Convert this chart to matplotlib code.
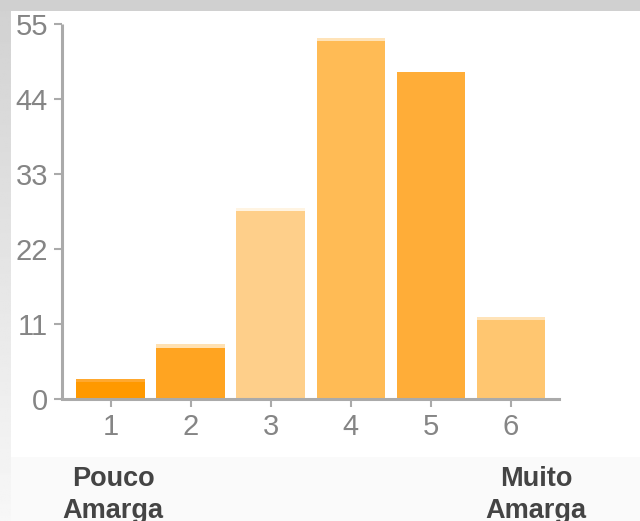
import numpy as np
import matplotlib
matplotlib.use("Agg")
import matplotlib.pyplot as plt
from matplotlib.patches import Rectangle

plt.rcParams['font.family'] = ['Liberation Sans', 'DejaVu Sans']

# answers per rating
ratings = [1, 2, 3, 4, 5, 6]
counts = [3, 8, 28, 53, 48, 12]
yticks = [0, 11, 22, 33, 44, 55]
bar_colors = ['#ff9900', '#ffa421', '#fecf8a', '#ffbb55', '#ffad38', '#ffc670']
cap_colors = ['#ffa82e', '#ffe1b2', '#fff4e2', '#ffe3b8', None, '#ffe3b8']

fig = plt.figure(figsize=(6.4, 5.21), dpi=100, facecolor='#fafafa')

# grey frame: band on top, fading strip on the left, white panel
bg = fig.add_axes([0, 0, 1, 1], zorder=-10)
bg.set_xlim(0, 640)
bg.set_ylim(521, 0)
bg.axis('off')
grad = np.linspace(0.82, 0.97, 256).reshape(-1, 1)
bg.imshow(grad, cmap='gray', vmin=0, vmax=1, extent=(0, 11, 521, 0), aspect='auto')
bg.add_patch(Rectangle((0, 0), 640, 11, color='#d0d0d0', lw=0))
bg.add_patch(Rectangle((11, 11), 629, 446, color='white', lw=0))
bg.add_patch(Rectangle((11, 457), 629, 64, color='#fafafa', lw=0))

ax = fig.add_axes([62 / 640, 122 / 521, 497 / 640, 375 / 521])
ax.patch.set_alpha(0)
x = np.array(ratings)
vals = np.array(counts)
ax.bar(x, vals, width=0.86, color=bar_colors, zorder=2)

# thin lighter strip on top of each bar
cap = 0.45
for xi, v, c in zip(x, vals, cap_colors):
    if c is not None:
        ax.bar(xi, cap, bottom=v - cap, width=0.86, color=c, zorder=3)

ax.set_xlim(0.39, 6.6)
ax.set_ylim(0, 55)
ax.set_xticks(ratings)
ax.set_yticks(yticks)
ax.tick_params(colors='#aaaaaa', labelcolor='#858585', labelsize=21,
               length=6, width=1.5, pad=4)
for side in ['top', 'right']:
    ax.spines[side].set_visible(False)
for side in ['left', 'bottom']:
    ax.spines[side].set_color('#aaaaaa')
    ax.spines[side].set_linewidth(2.2)
    ax.spines[side].set_zorder(4)
ax.spines['left'].set_capstyle('butt')

fig.text(113 / 640, 1 - 495 / 521, 'Pouco\nAmarga', ha='center', va='center',
         fontsize=19.5, fontweight='bold', color='#444444', linespacing=1.25)
fig.text(536 / 640, 1 - 495 / 521, 'Muito\nAmarga', ha='center', va='center',
         fontsize=19.5, fontweight='bold', color='#444444', linespacing=1.25)

fig.savefig('out.png', dpi=100, facecolor=fig.get_facecolor())
